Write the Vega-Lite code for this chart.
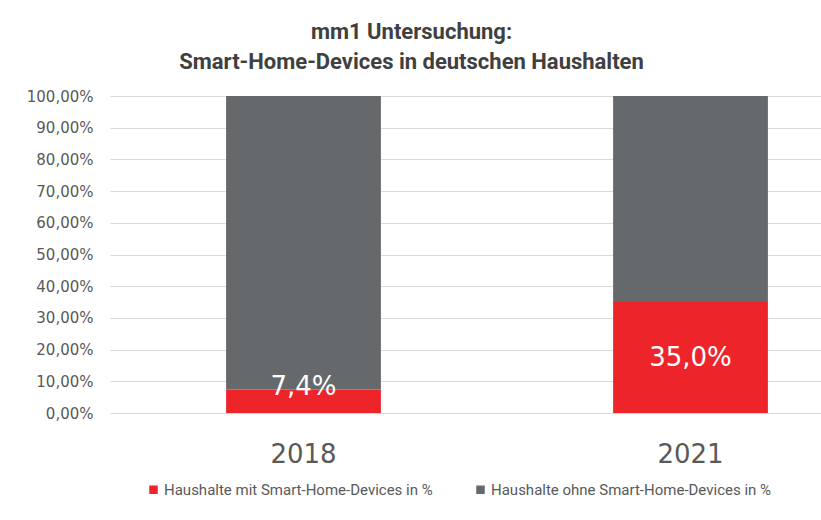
{
  "$schema": "https://vega.github.io/schema/vega-lite/v6.json",
  "autosize": "none",
  "width": 711,
  "height": 317,
  "padding": {"left": 110, "top": 96, "right": 0, "bottom": 107},
  "background": "white",
  "title": {
    "text": ["mm1 Untersuchung:", "Smart-Home-Devices in deutschen Haushalten"],
    "font": "Roboto",
    "fontSize": 22,
    "fontWeight": "bold",
    "color": "#404040",
    "lineHeight": 30,
    "anchor": "middle",
    "frame": "group",
    "dx": -54,
    "offset": 15
  },
  "data": {
    "values": [
      {"year": "2018", "series": "Haushalte mit Smart-Home-Devices in %", "value": 0.074},
      {"year": "2018", "series": "Haushalte ohne Smart-Home-Devices in %", "value": 0.926},
      {"year": "2021", "series": "Haushalte mit Smart-Home-Devices in %", "value": 0.35},
      {"year": "2021", "series": "Haushalte ohne Smart-Home-Devices in %", "value": 0.65}
    ]
  },
  "encoding": {
    "x": {
      "field": "year",
      "type": "nominal",
      "scale": {"range": [0, 774], "paddingInner": 0.6, "paddingOuter": 0.3},
      "axis": {
        "title": null,
        "domain": false,
        "ticks": false,
        "labelAngle": 0,
        "labelFont": "DejaVu Sans",
        "labelFontSize": 26,
        "labelColor": "#595959",
        "labelPadding": 28
      }
    }
  },
  "layer": [
    {
      "mark": {"type": "bar"},
      "encoding": {
        "y": {
          "field": "value",
          "type": "quantitative",
          "stack": "zero",
          "scale": {"domain": [0, 1]},
          "axis": {
            "title": null,
            "domain": false,
            "ticks": false,
            "values": [0, 0.1, 0.2, 0.3, 0.4, 0.5, 0.6, 0.7, 0.8, 0.9, 1],
            "labelOverlap": false,
            "format": ".2%",
            "labelFont": "DejaVu Sans",
            "labelFontSize": 15,
            "labelColor": "#595959",
            "labelPadding": 17,
            "gridColor": "#D9D9D9",
            "gridWidth": 1
          }
        },
        "color": {
          "field": "series",
          "type": "nominal",
          "scale": {
            "domain": ["Haushalte mit Smart-Home-Devices in %", "Haushalte ohne Smart-Home-Devices in %"],
            "range": ["#ED252B", "#65696B"]
          },
          "legend": {
            "title": null,
            "orient": "none",
            "direction": "horizontal",
            "legendX": 36,
            "legendY": 386,
            "symbolType": "square",
            "symbolSize": 72,
            "symbolStrokeWidth": 0,
            "labelFont": "Roboto",
            "labelFontSize": 15,
            "labelColor": "#595959",
            "labelLimit": 400,
            "columnPadding": 40,
            "labelOffset": 3
          }
        },
        "order": {"field": "series", "sort": "ascending"}
      }
    },
    {
      "transform": [
        {"filter": "datum.series === 'Haushalte mit Smart-Home-Devices in %'"},
        {"calculate": "max(datum.value / 2, 0.082)", "as": "mid"}
      ],
      "mark": {"type": "text", "color": "white", "font": "DejaVu Sans", "fontSize": 26, "baseline": "middle", "align": "center"},
      "encoding": {
        "y": {
          "field": "mid",
          "type": "quantitative",
          "stack": null,
          "axis": {
            "title": null,
            "domain": false,
            "ticks": false,
            "values": [0, 0.1, 0.2, 0.3, 0.4, 0.5, 0.6, 0.7, 0.8, 0.9, 1],
            "labelOverlap": false,
            "format": ".2%",
            "labelFont": "DejaVu Sans",
            "labelFontSize": 15,
            "labelColor": "#595959",
            "labelPadding": 17,
            "gridColor": "#D9D9D9",
            "gridWidth": 1
          }
        },
        "text": {"field": "value", "type": "quantitative", "format": ".1%"}
      }
    }
  ],
  "config": {
    "locale": {
      "number": {"decimal": ",", "thousands": ".", "grouping": [3], "currency": ["", " €"]}
    },
    "view": {"stroke": null}
  }
}
